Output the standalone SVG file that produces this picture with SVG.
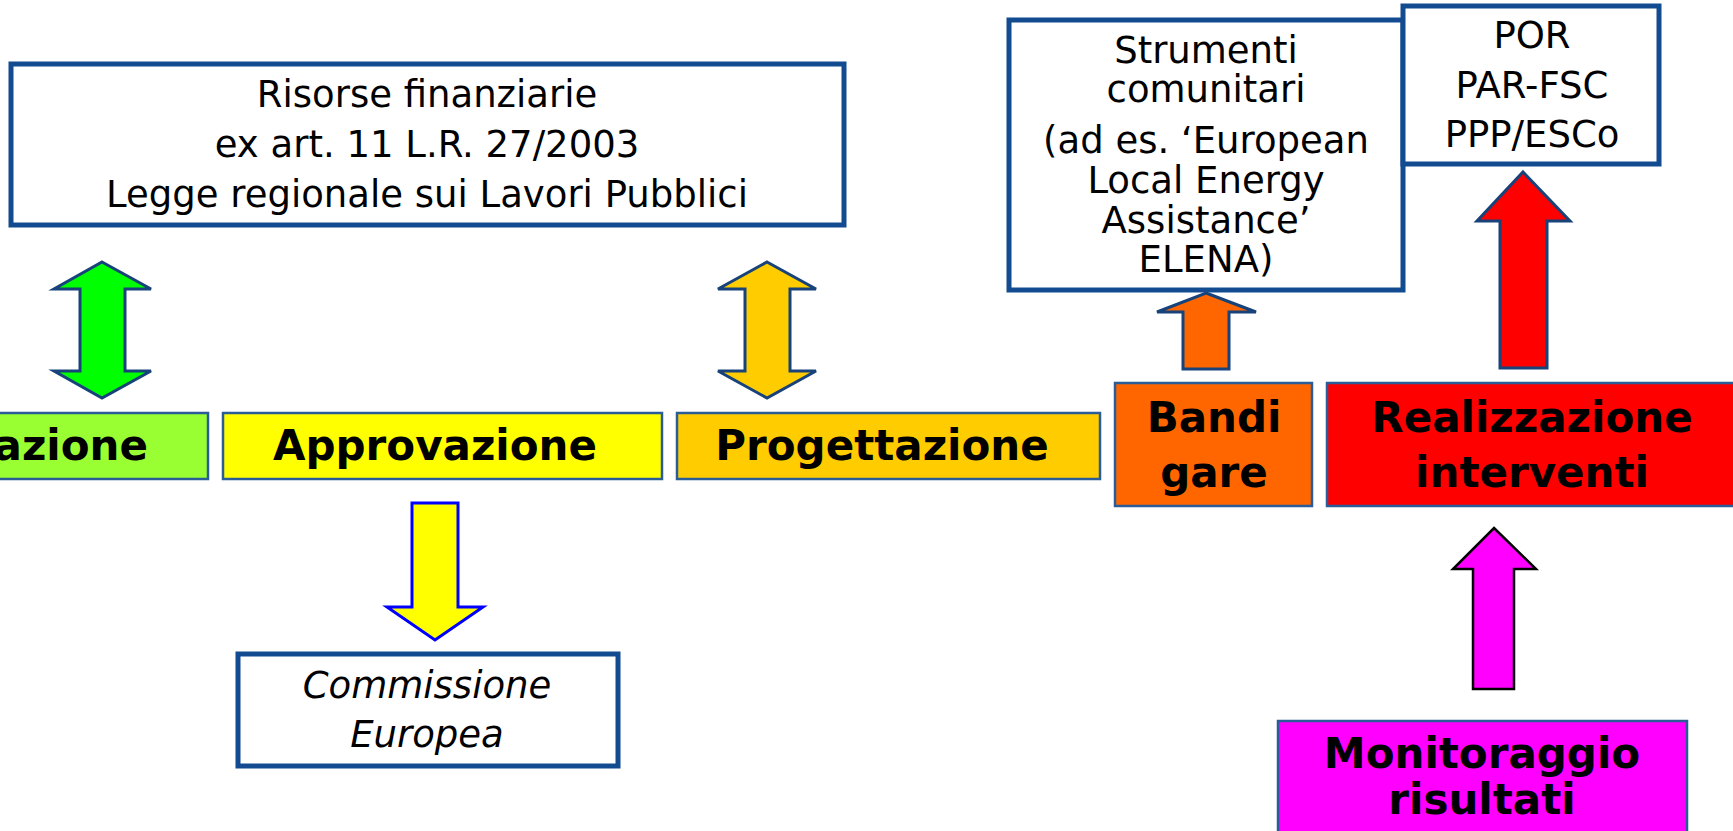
<svg xmlns="http://www.w3.org/2000/svg" width="1733" height="831" viewBox="0 0 1733 831">
<style>
.frame{fill:#fff;stroke:#124B8F;stroke-width:5}
.phase{stroke:#2A5C98;stroke-width:2.5}
.t{font-family:"DejaVu Sans","Verdana","Liberation Sans",sans-serif;font-size:37px;fill:#000;text-anchor:middle}
.b{font-family:"DejaVu Sans","Verdana","Liberation Sans",sans-serif;font-size:42px;font-weight:bold;fill:#000;text-anchor:middle}
.i{font-style:italic}
.arr{stroke:#17427A;stroke-width:3;stroke-linejoin:miter}
</style>
<rect width="1733" height="831" fill="#fff"/>
<g id="connectors">
  <path class="arr" fill="#00FF00" d="M102,262 L151,289 L125,289 L125,371 L151,371 L102,398 L54,371 L80,371 L80,289 L54,289 Z"/>
  <path class="arr" fill="#FFCC00" d="M767,262 L816,289 L790,289 L790,371 L816,371 L767,398 L718,371 L745,371 L745,289 L718,289 Z"/>
  <path fill="#FFFF00" stroke="#0000FF" stroke-width="3" d="M412,503 L458,503 L458,607 L483,607 L435,640 L387,607 L412,607 Z"/>
  <path class="arr" fill="#FF6600" d="M1206,293 L1256,312 L1229,312 L1229,369 L1183,369 L1183,312 L1157,312 Z"/>
  <path class="arr" fill="#FF0000" d="M1523,172 L1570,221 L1547,221 L1547,368 L1500,368 L1500,221 L1477,221 Z"/>
  <path fill="#FF00FF" stroke="#000" stroke-width="2.5" d="M1494,528 L1536,569 L1514,569 L1514,689 L1473,689 L1473,569 L1453,569 Z"/>
</g>
<g id="risorse">
  <rect class="frame" x="11" y="64" width="833" height="161"/>
  <text class="t" x="427" y="107">Risorse finanziarie</text>
  <text class="t" x="427" y="157">ex art. 11 L.R. 27/2003</text>
  <text class="t" x="427" y="207">Legge regionale sui Lavori Pubblici</text>
</g>
<g id="strumenti">
  <rect class="frame" x="1009" y="20" width="394" height="270"/>
  <text class="t" x="1206" y="63">Strumenti</text>
  <text class="t" x="1206" y="102">comunitari</text>
  <text class="t" x="1206" y="153">(ad es. ‘European</text>
  <text class="t" x="1206" y="193">Local Energy</text>
  <text class="t" x="1206" y="233">Assistance’</text>
  <text class="t" x="1206" y="272">ELENA)</text>
</g>
<g id="por">
  <rect class="frame" x="1403" y="6" width="256" height="158"/>
  <text class="t" x="1532" y="48">POR</text>
  <text class="t" x="1532" y="98">PAR-FSC</text>
  <text class="t" x="1532" y="147">PPP/ESCo</text>
</g>
<g id="commissione">
  <rect class="frame" x="238" y="654" width="380" height="112"/>
  <text class="t i" x="427" y="698">Commissione</text>
  <text class="t i" x="427" y="747">Europea</text>
</g>
<g id="fase-azione">
  <rect class="phase" fill="#99FF33" x="-5" y="413" width="213" height="66"/>
  <text class="b" x="148" y="460" style="text-anchor:end">azione</text>
</g>
<g id="approvazione">
  <rect class="phase" fill="#FFFF00" x="223" y="413" width="439" height="66"/>
  <text class="b" x="435" y="460">Approvazione</text>
</g>
<g id="progettazione">
  <rect class="phase" fill="#FFCC00" x="677" y="413" width="423" height="66"/>
  <text class="b" x="882" y="460">Progettazione</text>
</g>
<g id="bandi">
  <rect class="phase" fill="#FF6600" x="1115" y="383" width="197" height="123"/>
  <text class="b" x="1214" y="432">Bandi</text>
  <text class="b" x="1214" y="487">gare</text>
</g>
<g id="realizzazione">
  <rect class="phase" fill="#FF0000" x="1327" y="383" width="420" height="123"/>
  <text class="b" x="1532" y="432">Realizzazione</text>
  <text class="b" x="1532" y="487">interventi</text>
</g>
<g id="monitoraggio">
  <rect class="phase" fill="#FF00FF" x="1278" y="721" width="409" height="120"/>
  <text class="b" x="1482" y="768">Monitoraggio</text>
  <text class="b" x="1482" y="814">risultati</text>
</g>
</svg>
